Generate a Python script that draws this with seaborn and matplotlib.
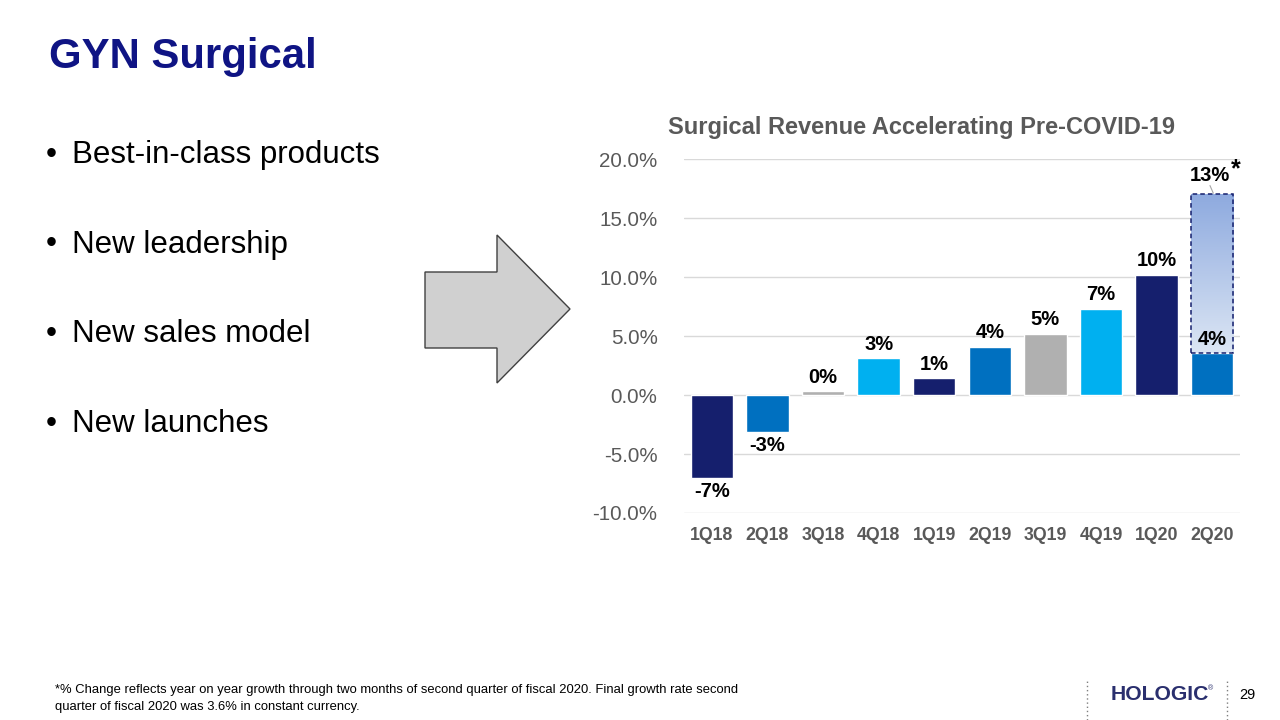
import numpy as np
import pandas as pd
import matplotlib
matplotlib.use("Agg")
import matplotlib.pyplot as plt
from matplotlib.patches import Polygon
from matplotlib.colors import LinearSegmentedColormap
import seaborn as sns

quarters = ["1Q18", "2Q18", "3Q18", "4Q18", "1Q19", "2Q19", "3Q19", "4Q19", "1Q20", "2Q20"]
growth = [-7.0, -3.1, 0.3, 3.1, 1.4, 4.1, 5.2, 7.3, 10.2, 3.6]
labels = ["-7%", "-3%", "0%", "3%", "1%", "4%", "5%", "7%", "10%", "4%"]
extra_value = 13.4          # two-month pre-COVID growth stacked on 2Q20
extra_label = "13%"
bullets = ["Best-in-class products", "New leadership", "New sales model", "New launches"]

NAVY, BLUE, GRAY, LIGHT = "#151f6d", "#0070c0", "#b0b0b0", "#00b0f0"
palette = [NAVY, BLUE, GRAY, LIGHT] * 3
palette = palette[:len(quarters)]

sns.set_theme(style="white")
plt.rcParams["font.family"] = ["Liberation Sans", "DejaVu Sans"]

fig = plt.figure(figsize=(12.8, 7.2), dpi=100)

# slide text
fig.text(49 / 1280, 1 - 57 / 720, "GYN Surgical", fontsize=30.2, fontweight="bold",
         color="#0f1484", va="center")
for i, b in enumerate(bullets):
    y = 1 - (155 + i * 89.5) / 720
    fig.text(46 / 1280, y, "•", fontsize=22.5, va="center", color="black")
    fig.text(72 / 1280, y, b, fontsize=22.5, va="center", color="black")

# block arrow
pts = [(425, 272), (497, 272), (497, 235), (570, 309), (497, 383), (497, 348), (425, 348)]
arrow = Polygon([(x / 1280, 1 - y / 720) for x, y in pts], closed=True,
                transform=fig.transFigure, facecolor="#d0d0d0", edgecolor="#404040", lw=1)
fig.patches.append(arrow)

# chart
ax = fig.add_axes([684 / 1280, 1 - 513 / 720, 556 / 1280, 354 / 720])
df = pd.DataFrame({"quarter": quarters, "growth": growth})
sns.barplot(data=df, x="quarter", y="growth", hue="quarter", palette=palette,
            legend=False, width=0.76, ax=ax, saturation=1)

# stacked segment on last quarter
xi = len(quarters) - 1
seg = ax.bar(xi, extra_value, bottom=growth[-1], width=0.76, facecolor="none",
             edgecolor=NAVY, linestyle=(0, (3, 2)), lw=1.1, zorder=4)[0]
cmap = LinearSegmentedColormap.from_list("g", ["#dce6f4", "#8eaadf"])
grad = np.linspace(0, 1, 256).reshape(-1, 1)
im = ax.imshow(grad, cmap=cmap, aspect="auto", origin="lower", zorder=3,
               extent=[xi - 0.38, xi + 0.38, growth[-1], growth[-1] + extra_value])
im.set_clip_path(seg)

ax.set_xlim(-0.5, len(quarters) - 0.5)
ax.set_ylim(-10, 20)
ax.set_yticks(np.arange(-10, 20.1, 5))
ax.set_yticklabels([f"{v:.1f}%" for v in np.arange(-10, 20.1, 5)])
ax.yaxis.grid(True, color="#d9d9d9", lw=1)
ax.set_axisbelow(True)
for s in ax.spines.values():
    s.set_visible(False)
ax.set_xlabel("")
ax.set_ylabel("")
ax.tick_params(axis="y", labelsize=14.8, colors="#595959", length=0, pad=19)
ax.tick_params(axis="x", labelsize=12.8, colors="#595959", length=0, pad=10)
for t in ax.get_xticklabels():
    t.set_fontweight("bold")

# data labels
lab_fs = 14.5
for i, (v, lab) in enumerate(zip(growth, labels)):
    if i == xi:
        ax.text(i, v + 0.3, lab, ha="center", va="bottom", fontsize=lab_fs,
                fontweight="bold", color="black", zorder=5)
    elif v >= 0:
        ax.text(i, v + 0.4, lab, ha="center", va="bottom", fontsize=lab_fs,
                fontweight="bold", color="black")
    else:
        ax.text(i, v - 0.4, lab, ha="center", va="top", fontsize=lab_fs,
                fontweight="bold", color="black")
top = growth[-1] + extra_value
ax.text(xi - 0.05, top + 0.8, extra_label, ha="center", va="bottom", fontsize=lab_fs,
        fontweight="bold", color="black")
ax.plot([xi - 0.04, xi + 0.02], [top + 0.75, top + 0.1], color="#a6a6a6", lw=0.8)
ax.text(xi + 0.42, top + 2.1, "*", ha="center", va="center", fontsize=18,
        fontweight="bold", color="black")

ax.set_title("Surgical Revenue Accelerating Pre-COVID-19", fontsize=17,
             fontweight="bold", color="#595959", pad=18, x=0.428)

# footer
fig.text(55 / 1280, 1 - 690 / 720,
         "*% Change reflects year on year growth through two months of second quarter of fiscal 2020. Final growth rate second",
         fontsize=9.4, va="center", color="black")
fig.text(55 / 1280, 1 - 707 / 720, "quarter of fiscal 2020 was 3.6% in constant currency.",
         fontsize=9.4, va="center", color="black")
for x in (1087, 1227):
    fig.add_artist(plt.Line2D([x / 1280, x / 1280], [0, 1 - 680 / 720],
                              transform=fig.transFigure, color="#7f7f7f", lw=1,
                              linestyle=(0, (1, 2))))
fig.text(1160 / 1280, 1 - 695 / 720, "HOLOGIC", fontsize=15.2, fontweight="bold",
         color="#2a2f6e", ha="center", va="center")
fig.text(1211 / 1280, 1 - 689 / 720, "®", fontsize=5, color="#2a2f6e", ha="center", va="center")
fig.text(1247 / 1280, 1 - 695 / 720, "29", fontsize=10.5, color="black", ha="center", va="center")

fig.savefig("out.png", dpi=100, facecolor="white")
